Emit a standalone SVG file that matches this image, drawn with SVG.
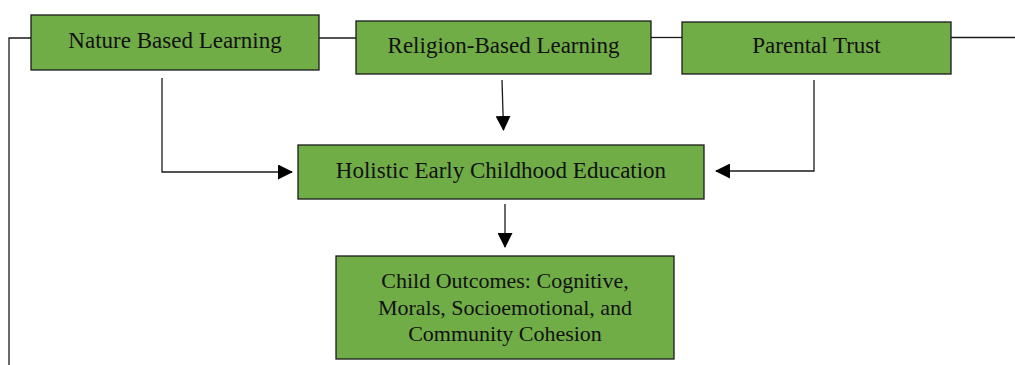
<svg xmlns="http://www.w3.org/2000/svg" width="1015" height="365" viewBox="0 0 1015 365">
<style>
.box{fill:#70AD47;stroke:#1a1a1a;stroke-width:1.3}
.t{font-family:"Liberation Serif","Times New Roman",serif;font-size:23px;fill:#111;text-anchor:middle}
.t2{font-size:22px}
.ln{fill:none;stroke:#1a1a1a;stroke-width:1.3}
</style>
<defs>
<marker id="ah" markerWidth="15" markerHeight="15" refX="14" refY="7.5" orient="auto" markerUnits="userSpaceOnUse">
<path d="M0,0 L15,7.5 L0,15 Z" fill="#000"/>
</marker>
</defs>
<g id="connectors">
<path class="ln" d="M9,365 L9,38 L31,38"/>
<path class="ln" d="M319,38 L356,38"/>
<path class="ln" d="M651,37.5 L682,37.5"/>
<path class="ln" d="M951,37.5 L1015,37.5"/>
<path class="ln" d="M162,78 L162,172 L292,172" marker-end="url(#ah)"/>
<path class="ln" d="M502,80 L503.5,130" marker-end="url(#ah)"/>
<path class="ln" d="M814,80 L814,171 L716,171" marker-end="url(#ah)"/>
<path class="ln" d="M505,204 L505,247" marker-end="url(#ah)"/>
</g>
<g id="nature">
<rect class="box" x="31" y="15" width="288" height="55"/>
<text class="t" x="175" y="48">Nature Based Learning</text>
</g>
<g id="religion">
<rect class="box" x="356" y="21" width="295" height="53"/>
<text class="t" x="503.5" y="53">Religion-Based Learning</text>
</g>
<g id="parental">
<rect class="box" x="682" y="22" width="269" height="52"/>
<text class="t" x="816.5" y="53">Parental Trust</text>
</g>
<g id="holistic">
<rect class="box" x="298" y="145" width="406" height="54"/>
<text class="t" x="501" y="178">Holistic Early Childhood Education</text>
</g>
<g id="outcomes">
<rect class="box" x="336" y="256" width="338" height="103"/>
<text class="t t2" x="505" y="288">Child Outcomes: Cognitive,</text>
<text class="t t2" x="505" y="315">Morals, Socioemotional, and</text>
<text class="t t2" x="505" y="341">Community Cohesion</text>
</g>
</svg>
